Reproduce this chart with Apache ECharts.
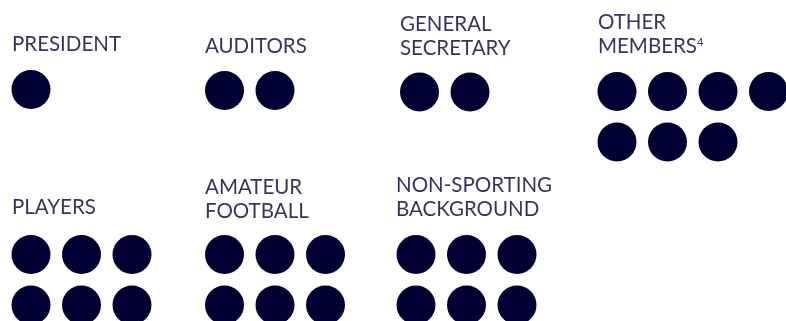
<!DOCTYPE html>
<html>
<head>
<meta charset="utf-8">
<script src="https://cdn.jsdelivr.net/npm/echarts@6/dist/echarts.min.js"></script>
<style>
html,body{margin:0;padding:0;background:#fff;}
#main{width:786px;height:321px;}
</style>
</head>
<body>
<div id="main"></div>
<script>
// groups and how many people sit in each
var groupNames = ['PRESIDENT', 'AUDITORS', 'GENERAL\nSECRETARY', 'OTHER\nMEMBERS{sup|4}', 'PLAYERS', 'AMATEUR\nFOOTBALL', 'NON-SPORTING\nBACKGROUND'];
var groupCounts = [1, 2, 2, 7, 6, 6, 6];

// layout only (pixels): first dot centre, dots per row, label top-left
var dotX0 = [31, 224.5, 419.5, 617, 31, 224.5, 416];
var dotY0 = [89.5, 90.5, 92, 91.5, 254.5, 254.5, 254.5];
var perRow = [4, 4, 4, 4, 3, 3, 3];
var labelX = [12, 205, 400, 598, 12, 205, 396];
var labelY = [32, 34, 12, 10, 195, 175, 173];
var gap = 50.5, dotSize = 39;

var navy = '#000033';

var dots = [];
for (var i = 0; i < groupCounts.length; i++) {
	for (var k = 0; k < groupCounts[i]; k++) {
		var col = k % perRow[i], row = Math.floor(k / perRow[i]);
		dots.push([dotX0[i] + col * gap, dotY0[i] + row * gap]);
	}
}
var labels = [];
for (var j = 0; j < groupNames.length; j++) {
	labels.push({ value: [labelX[j], labelY[j]], name: groupNames[j] });
}

var myChart = echarts.init(document.getElementById('main'));
var option = {
	animation: false,
	grid: { left: 0, top: 0, width: 786, height: 321 },
	xAxis: { type: 'value', min: 0, max: 786, show: false },
	yAxis: { type: 'value', min: 0, max: 321, inverse: true, show: false },
	series: [{
		type: 'scatter',
		symbol: 'circle',
		symbolSize: dotSize,
		itemStyle: { color: navy, opacity: 1 },
		silent: true,
		data: dots
	}, {
		type: 'scatter',
		symbolSize: 0,
		silent: true,
		data: labels,
		label: {
			show: true,
			position: [0, 0],
			align: 'left',
			verticalAlign: 'top',
			formatter: function (p) { return p.name; },
			color: navy,
			fontFamily: 'Lato',
			fontSize: 20.5,
			lineHeight: 24,
			rich: {
				sup: { fontSize: 11, verticalAlign: 'top', lineHeight: 24, color: navy, fontFamily: 'Lato', padding: [3, 0, 0, 0] }
			}
		}
	}]
};
myChart.setOption(option);
</script>
</body>
</html>
